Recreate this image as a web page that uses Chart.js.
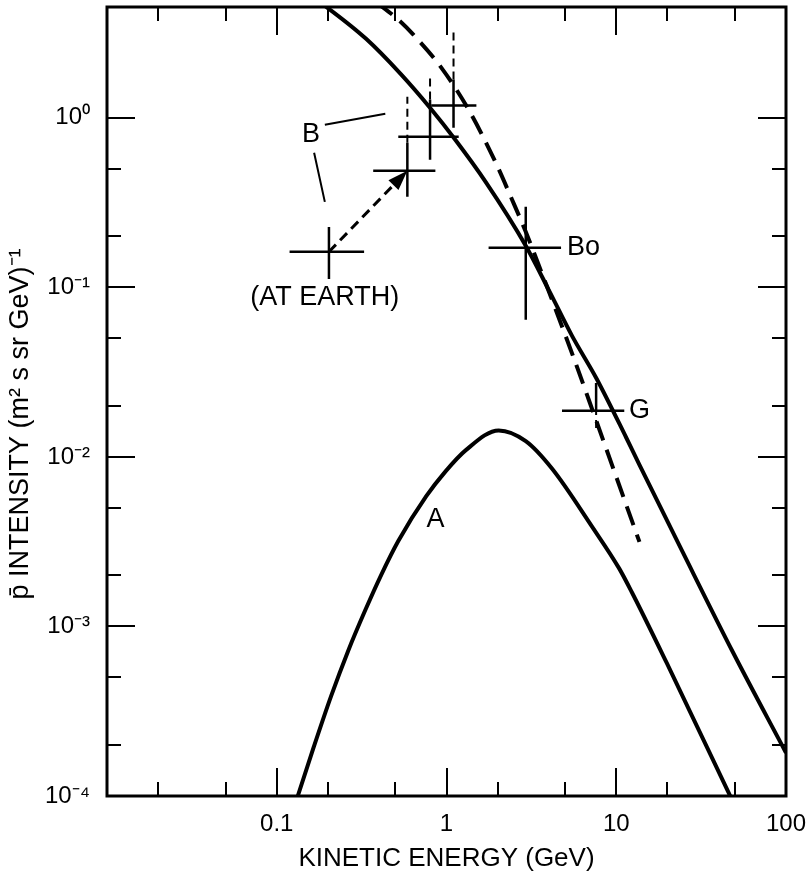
<!DOCTYPE html>
<html>
<head>
<meta charset="utf-8">
<script src="https://cdn.jsdelivr.net/npm/chart.js@4.4.1/dist/chart.umd.min.js"></script>
<style>
html, body { margin: 0; padding: 0; background: #fff; }
canvas { display: block; }
</style>
</head>
<body>
<canvas id="chart" width="811" height="876"></canvas>
<script>
// solid upper curve (energy in GeV, intensity)
const upperE = [0.18, 0.195, 0.336, 0.535, 0.804, 1.115, 1.70, 2.93, 4.0, 5.49, 7.62, 11.4, 13.7, 24.6, 48.6, 100];
const upperI = [4.78, 4.52, 2.92, 1.82, 1.138, 0.752, 0.419, 0.176, 0.0966, 0.0517, 0.0292, 0.0131, 0.00897, 0.00275, 7.07e-4, 1.8e-4];

// dashed curve
const dashE = [0.385, 0.424, 0.52, 0.638, 0.934, 1.35, 1.95, 2.42, 2.93, 3.85, 5.64, 7.41, 10, 13.7];
const dashI = [4.77, 4.46, 3.79, 3.09, 1.97, 1.115, 0.543, 0.333, 0.2125, 0.105, 0.0379, 0.0177, 0.00762, 0.00315];

// curve A
const curveAE = [0.126, 0.133, 0.1656, 0.209, 0.263, 0.332, 0.412, 0.52, 0.76, 0.99, 1.30, 2.03, 2.93, 4.18, 7.2, 10.4, 12.4, 19.8, 31, 44.8, 49.9];
const curveAI = [8.4e-5, 1e-4, 1.96e-4, 3.88e-4, 7.15e-4, 1.245e-3, 2.01e-3, 3.19e-3, 5.86e-3, 8.24e-3, 0.01096, 0.01433, 0.01239, 8.54e-3, 3.88e-3, 2.2e-3, 1.58e-3, 6.11e-4, 2.39e-4, 1.1e-4, 8.8e-5];

// measured points: AT EARTH, B (3), Bo, G
const ptE = [0.203, 0.588, 0.80, 1.10, 2.93, 7.61];
const ptI = [0.162, 0.487, 0.773, 1.18, 0.171, 0.0187];
const ptELow = [0.119, 0.37, 0.52, 0.815, 1.77, 4.79];
const ptEHigh = [0.327, 0.86, 1.18, 1.50, 4.73, 11.15];
const ptILow = [0.112, 0.342, 0.565, 0.873, 0.0643, 0.0187];
const ptIHigh = [0.227, 0.712, 1.28, 1.68, 0.299, 0.0273];
const ptDashLow = [null, 0.712, 1.28, 1.68, null, 0.0148];
const ptDashHigh = [null, 1.33, 1.75, 3.30, null, 0.0187];

// axis ticks
const xTicks = [0.01, 0.02, 0.05, 0.1, 0.2, 0.5, 1, 2, 5, 10, 20, 50, 100];
const xMajor = [0.1, 1, 10, 100];
const yTicks = [1e-4, 2e-4, 5e-4, 1e-3, 2e-3, 5e-3, 1e-2, 2e-2, 5e-2, 0.1, 0.2, 0.5, 1];
const yMajor = [1e-4, 1e-3, 1e-2, 0.1, 1];
const supers = {'0': '\u2070', '1': '\u00b9', '2': '\u00b2', '3': '\u00b3', '4': '\u2074', '-': '\u207b'};

const FONT = "'Liberation Sans', Arial, Helvetica, sans-serif";

const zip = (xs, ys) => xs.map((v, i) => ({x: v, y: ys[i]}));

// error bar segments, separated by gaps
const errSolid = [];
const errDash = [];
ptE.forEach((e, i) => {
    errSolid.push({x: ptELow[i], y: ptI[i]}, {x: ptEHigh[i], y: ptI[i]}, {x: e, y: null});
    errSolid.push({x: e, y: ptILow[i]}, {x: e, y: ptIHigh[i]}, {x: e, y: null});
    if (ptDashLow[i] !== null) {
        errDash.push({x: e, y: ptDashLow[i]}, {x: e, y: ptDashHigh[i]}, {x: e, y: null});
    }
});

// leader lines from label B
const leaders = [
    {x: 0.192, y: 0.909}, {x: 0.436, y: 1.056}, {x: 0.19, y: null},
    {x: 0.166, y: 0.622}, {x: 0.192, y: 0.319}
];

const notes = [
    {text: 'B', x: 0.159, y: 0.794, align: 'center'},
    {text: '(AT EARTH)', x: 0.192, y: 0.0867, align: 'center'},
    {text: 'Bo', x: 5.13, y: 0.171, align: 'left'},
    {text: 'G', x: 11.9, y: 0.0187, align: 'left'},
    {text: 'A', x: 0.86, y: 4.25e-3, align: 'center'}
];

const framePlugin = {
    id: 'frame',
    afterDatasetsDraw(chart) {
        const {ctx, chartArea: a, scales: {x, y}} = chart;
        ctx.save();
        ctx.strokeStyle = '#000';
        ctx.lineWidth = 3;
        ctx.strokeRect(a.left, a.top, a.right - a.left, a.bottom - a.top);
        ctx.lineWidth = 2;
        ctx.beginPath();
        xTicks.forEach(v => {
            const px = Math.round(x.getPixelForValue(v));
            const len = xMajor.includes(v) ? 28 : 14;
            ctx.moveTo(px, a.bottom); ctx.lineTo(px, a.bottom - len);
            ctx.moveTo(px, a.top); ctx.lineTo(px, a.top + len);
        });
        yTicks.forEach(v => {
            const py = Math.round(y.getPixelForValue(v));
            const len = yMajor.includes(v) ? 28 : 14;
            ctx.moveTo(a.left, py); ctx.lineTo(a.left + len, py);
            ctx.moveTo(a.right, py); ctx.lineTo(a.right - len, py);
        });
        ctx.stroke();

        // arrow head at the end of the arrow dataset
        const idx = chart.data.datasets.findIndex(d => d.label === 'arrow');
        const pts = chart.getDatasetMeta(idx).data;
        const p0 = pts[0], p1 = pts[1];
        const ang = Math.atan2(p1.y - p0.y, p1.x - p0.x);
        const L = 20, W = 7;
        ctx.fillStyle = '#000';
        ctx.beginPath();
        ctx.moveTo(p1.x, p1.y);
        ctx.lineTo(p1.x - L * Math.cos(ang) + W * Math.sin(ang), p1.y - L * Math.sin(ang) - W * Math.cos(ang));
        ctx.lineTo(p1.x - L * Math.cos(ang) - W * Math.sin(ang), p1.y - L * Math.sin(ang) + W * Math.cos(ang));
        ctx.closePath();
        ctx.fill();

        // text labels
        ctx.font = '27px ' + FONT;
        ctx.textBaseline = 'middle';
        notes.forEach(n => {
            ctx.textAlign = n.align;
            ctx.fillText(n.text, x.getPixelForValue(n.x), y.getPixelForValue(n.y));
        });
        ctx.restore();
    }
};

const line = (data, extra) => Object.assign({
    data: data,
    borderColor: '#000',
    borderWidth: 4,
    pointRadius: 0,
    fill: false,
    spanGaps: false,
    tension: 0,
    borderCapStyle: 'butt'
}, extra);

const noPad = s => { s.paddingTop = 0; s.paddingBottom = 0; s.paddingLeft = 0; s.paddingRight = 0; };

new Chart(document.getElementById('chart'), {
    type: 'line',
    data: {
        datasets: [
            line(zip(upperE, upperI), {label: 'upper', cubicInterpolationMode: 'monotone'}),
            line(zip(dashE, dashI), {label: 'dashed', borderDash: [20, 10], cubicInterpolationMode: 'monotone'}),
            line(zip(curveAE, curveAI), {label: 'A', cubicInterpolationMode: 'monotone'}),
            line(errSolid, {label: 'err', borderWidth: 2.5}),
            line(errDash, {label: 'errdash', borderWidth: 2, borderDash: [8, 5]}),
            line(leaders, {label: 'leaders', borderWidth: 2}),
            line([{x: ptE[0], y: ptI[0]}, {x: ptE[1], y: ptI[1]}], {label: 'arrow', borderWidth: 3, borderDash: [10, 6]})
        ]
    },
    options: {
        responsive: false,
        animation: false,
        events: [],
        layout: {padding: {top: 7, right: 25, left: 0, bottom: 0}},
        plugins: {legend: {display: false}, tooltip: {enabled: false}},
        scales: {
            x: {
                type: 'logarithmic',
                min: 0.01,
                max: 100,
                grid: {display: false, drawTicks: false},
                border: {display: false},
                afterBuildTicks: s => { s.ticks = xTicks.map(v => ({value: v})); },
                afterFit: s => { s.height = 80; noPad(s); },
                ticks: {
                    autoSkip: false,
                    maxRotation: 0,
                    padding: 14,
                    color: '#000',
                    font: {family: FONT, size: 24},
                    callback: v => xMajor.includes(v) ? String(v) : ''
                },
                title: {
                    display: true,
                    text: 'KINETIC ENERGY (GeV)',
                    color: '#000',
                    font: {family: FONT, size: 26},
                    padding: {top: 0, bottom: 2}
                }
            },
            y: {
                type: 'logarithmic',
                min: 1e-4,
                max: 4.5,
                grid: {display: false, drawTicks: false},
                border: {display: false},
                afterBuildTicks: s => { s.ticks = yTicks.map(v => ({value: v})); },
                afterFit: s => { s.width = 107; noPad(s); },
                ticks: {
                    autoSkip: false,
                    padding: 17,
                    color: '#000',
                    font: {family: FONT, size: 24},
                    callback: v => {
                        if (!yMajor.includes(v)) return '';
                        const p = String(Math.round(Math.log10(v)));
                        return '10' + p.split('').map(c => supers[c]).join('');
                    }
                },
                title: {
                    display: true,
                    text: 'p\u0304 INTENSITY (m\u00b2 s sr GeV)\u207b\u00b9      ',
                    color: '#000',
                    font: {family: FONT, size: 27},
                    padding: {top: 4, bottom: 0}
                }
            }
        }
    },
    plugins: [framePlugin]
});
</script>
</body>
</html>
